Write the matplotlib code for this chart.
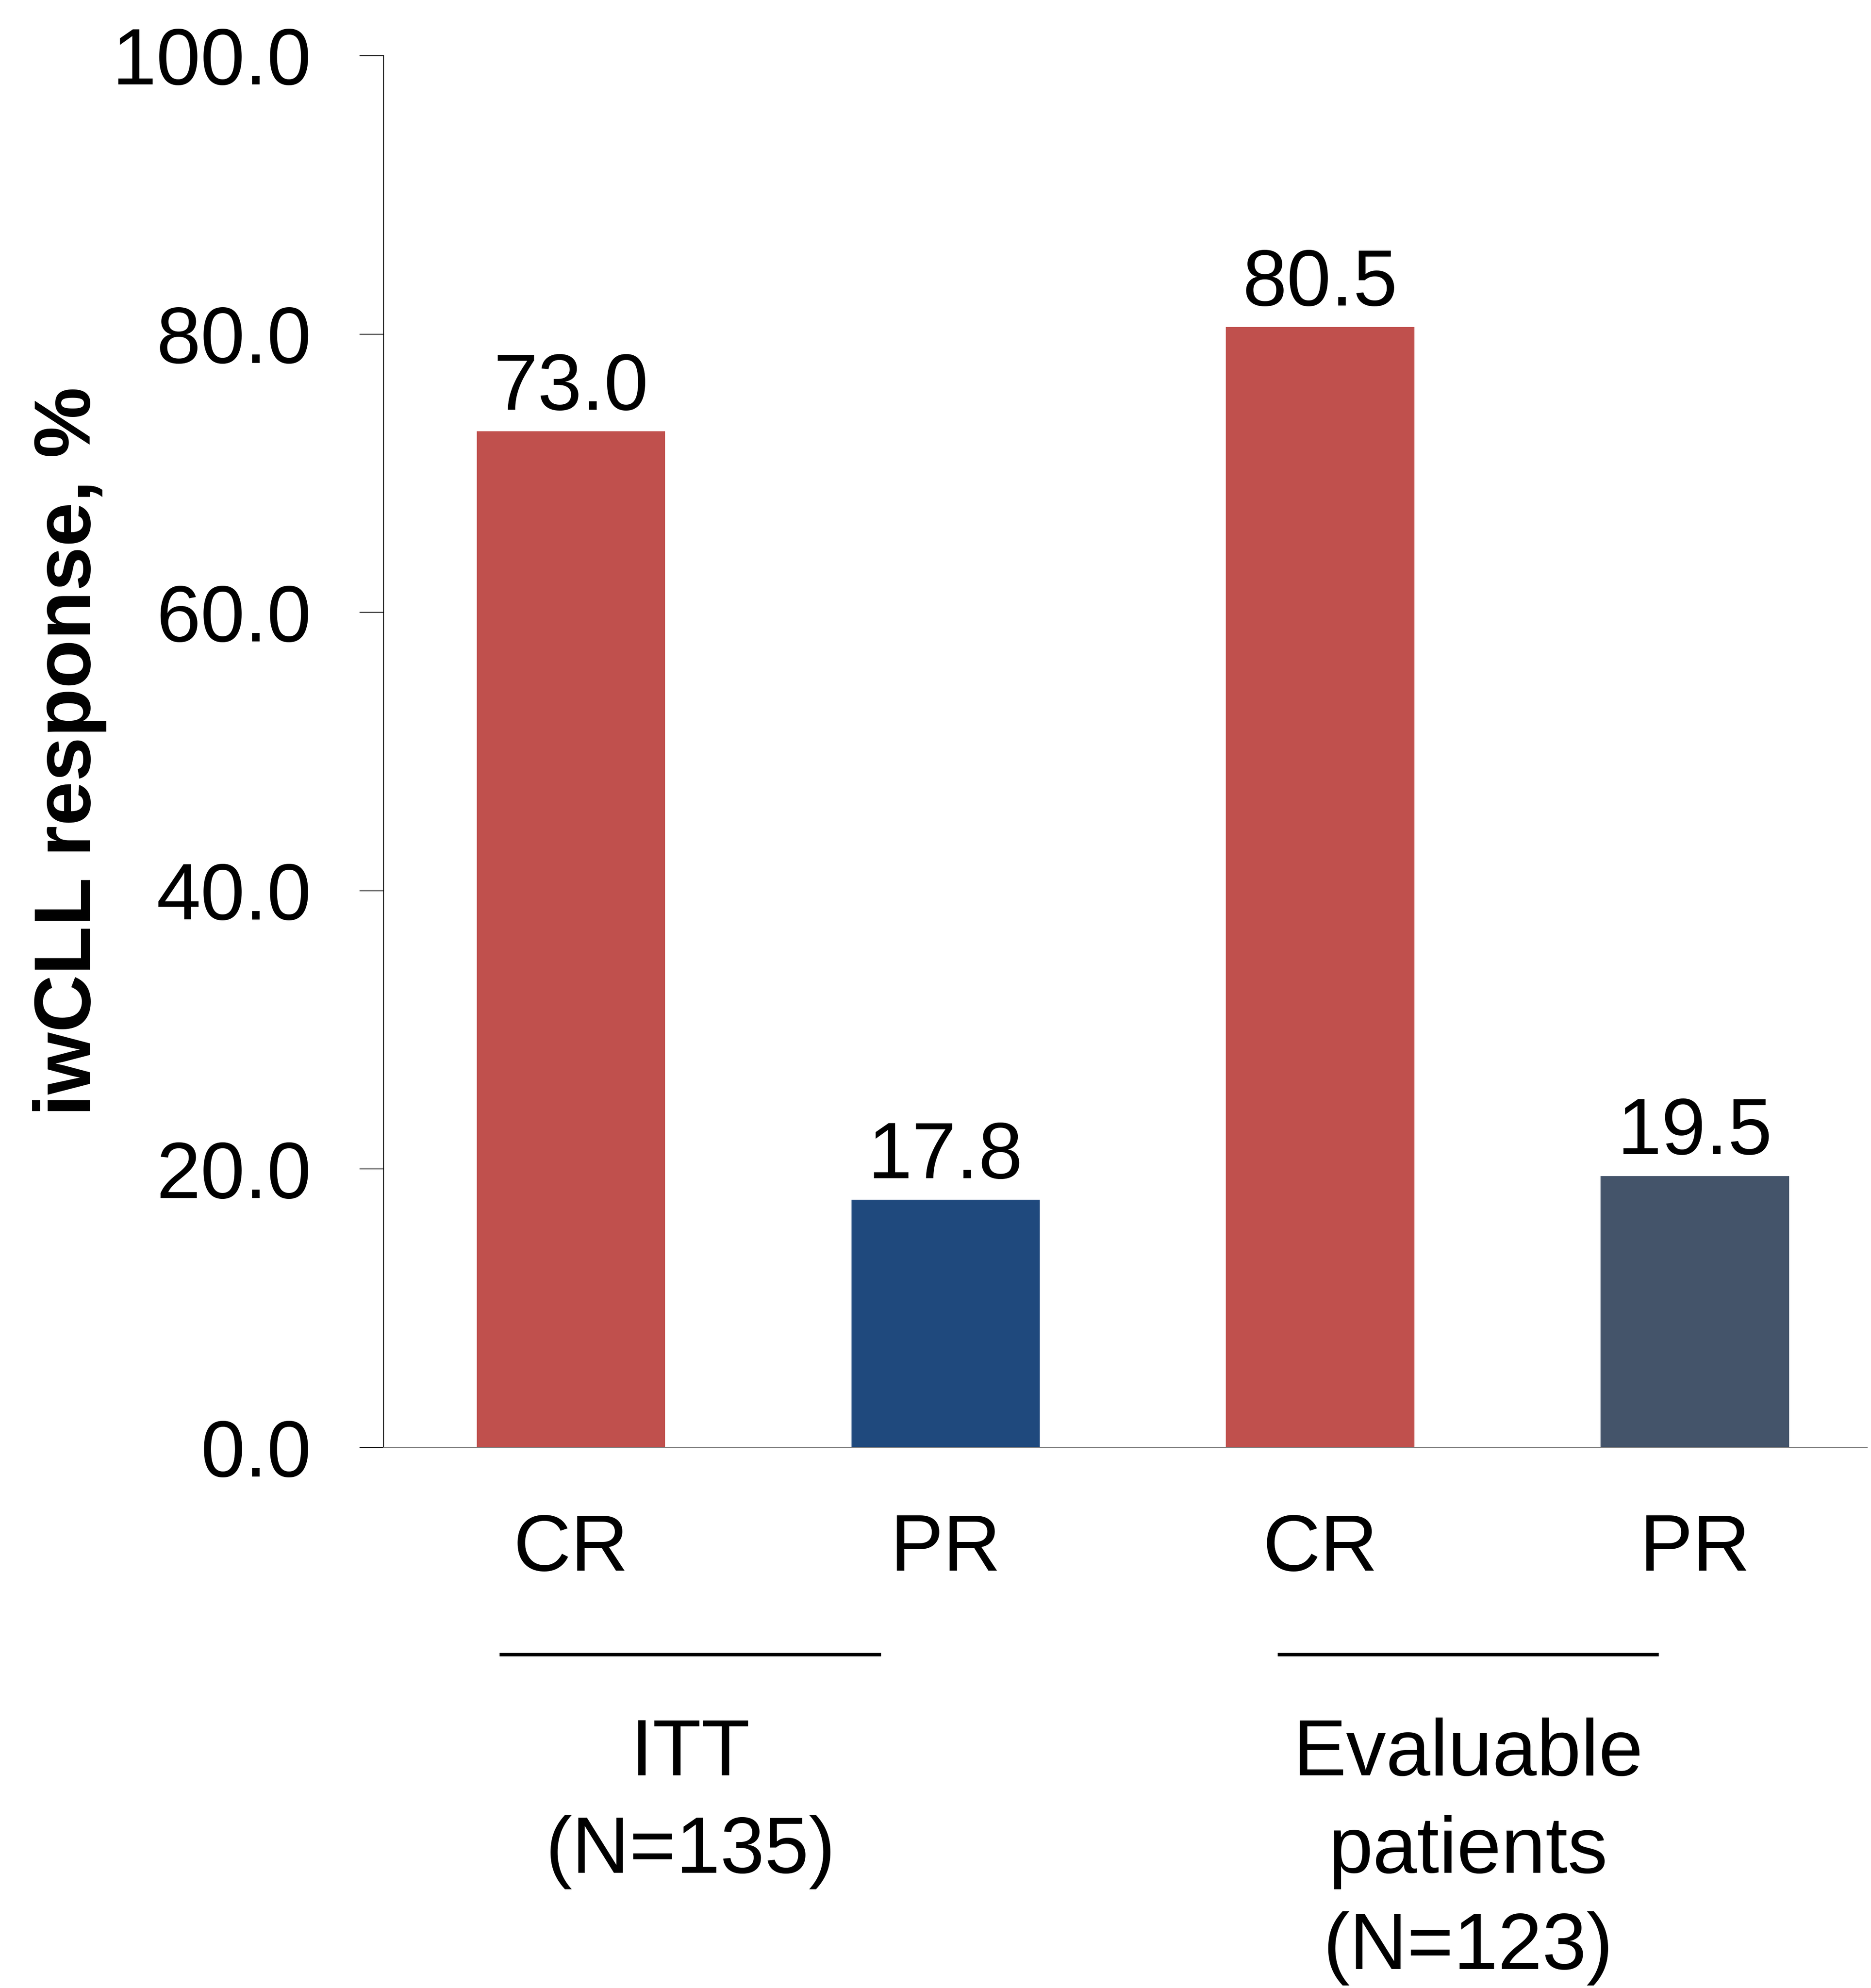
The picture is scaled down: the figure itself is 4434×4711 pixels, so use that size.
import matplotlib
matplotlib.use('Agg')
from matplotlib import pyplot as plt
import matplotlib.transforms as mtransforms

# data
categories = ['CR', 'PR', 'CR', 'PR']
values = [73.0, 17.8, 80.5, 19.5]
bar_colors = ['#C0504D', '#1F497D', '#C0504D', '#44546A']
yticks = [0, 20, 40, 60, 80, 100]
group_labels = [['ITT', '(N=135)'], ['Evaluable', 'patients', '(N=123)']]
group_centers = [0.319, 2.395]

plt.rcParams['font.family'] = ['Liberation Sans', 'DejaVu Sans']

fig = plt.figure(figsize=(44.34, 47.11), dpi=100)
ax = fig.add_axes([0.205, 0.2719, 0.793, 0.7001])

x = list(range(len(categories)))
bars = ax.bar(x, values, width=0.503, color=bar_colors)
ax.bar_label(bars, labels=['%.1f' % v for v in values], padding=9, fontsize=136)

ax.set_xlim(-0.5, 3.46)
ax.set_ylim(0, 100)
ax.set_yticks(yticks)
ax.set_yticklabels(['%.1f' % t for t in yticks])
ax.tick_params(axis='y', labelsize=136, length=41, width=1.5, pad=82, direction='out')
ax.set_xticks([])

for s in ['top', 'right']:
    ax.spines[s].set_visible(False)
ax.spines['left'].set_linewidth(1.5)
ax.spines['bottom'].set_linewidth(1.5)
ax.spines['bottom'].set_color('#808080')

ax.set_ylabel('iwCLL response, %', fontsize=136, fontweight='bold')
ax.yaxis.set_label_coords(-0.1866, 0.5)

trans = mtransforms.blended_transform_factory(ax.transData, ax.transAxes)

# category labels under bars
for xi, c in zip(x, categories):
    ax.text(xi, -0.0885, c, transform=trans, ha='center', va='baseline', fontsize=136)

# group lines and labels
baselines = [-0.2356, -0.3056, -0.3748]
for gc, lines in zip(group_centers, group_labels):
    ax.plot([gc - 0.509, gc + 0.509], [-0.1489, -0.1489], transform=trans,
            color='black', linewidth=5.8, clip_on=False, solid_capstyle='butt')
    for yb, t in zip(baselines, lines):
        ax.text(gc, yb, t, transform=trans, ha='center', va='baseline', fontsize=136)

plt.savefig('out.png')
